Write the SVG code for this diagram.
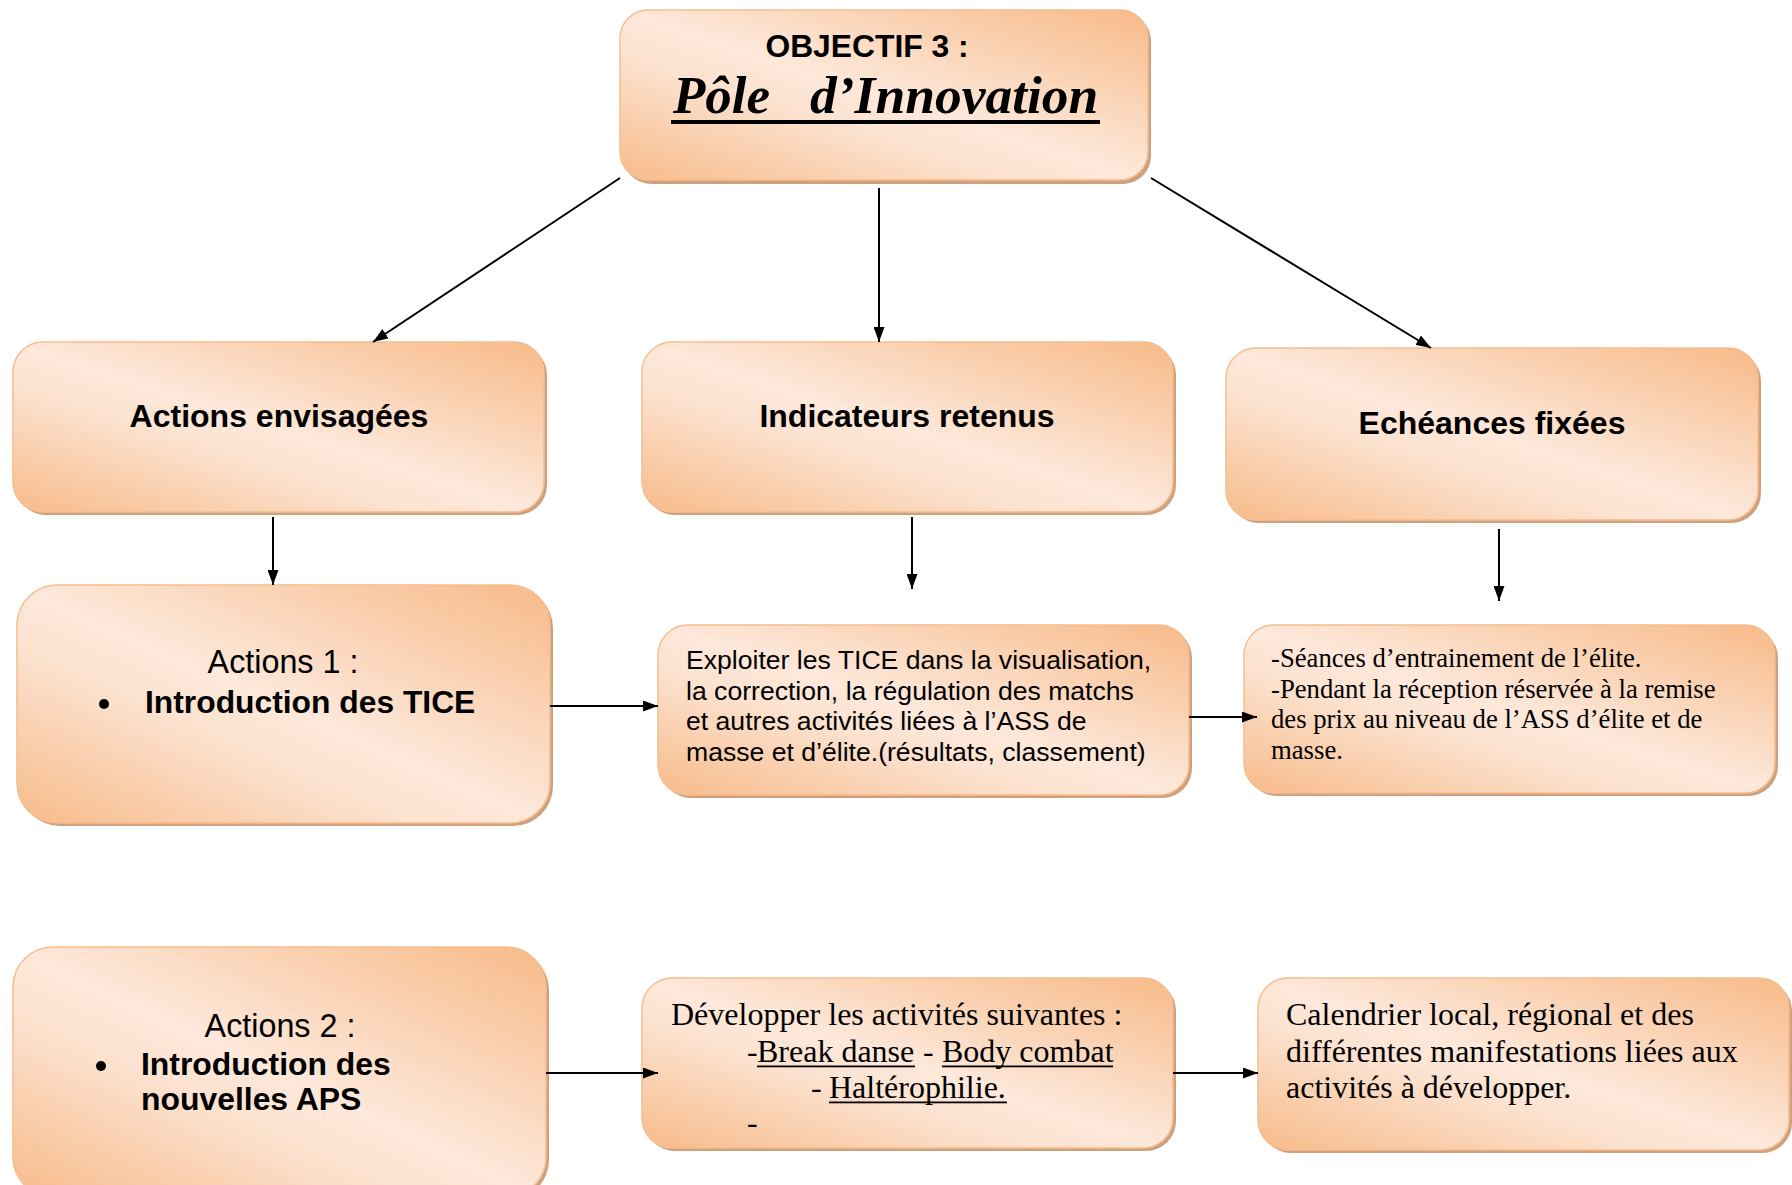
<svg xmlns="http://www.w3.org/2000/svg" width="1792" height="1185" viewBox="0 0 1792 1185">
<defs>
<linearGradient id="g" x1="1" y1="0" x2="0" y2="1">
<stop offset="0" stop-color="#f7ba88"/>
<stop offset="0.5" stop-color="#fde8da"/>
<stop offset="0.62" stop-color="#fce3d1"/>
<stop offset="1" stop-color="#f7bb8a"/>
</linearGradient>
<marker id="ah" markerUnits="userSpaceOnUse" markerWidth="15" markerHeight="11" refX="15" refY="5.5" orient="auto">
<path d="M0,0 L15,5.5 L0,11 z" fill="#000"/>
</marker>
<style>
.sh{fill:#cfa07e}
.bx{fill:url(#g);stroke:#f6bd8f;stroke-width:1.5}
.ab{font-family:"Liberation Sans",Arial,sans-serif;font-weight:bold;fill:#000}
.ar{font-family:"Liberation Sans",Arial,sans-serif;fill:#000}
.tr{font-family:"Liberation Serif","Times New Roman",serif;fill:#000}
.cn{stroke:#000;stroke-width:2;fill:none;marker-end:url(#ah)}
.ul{fill:#000}
</style>
</defs>
<rect width="1792" height="1185" fill="#fff"/>

<g id="objectif">
<rect class="sh" x="623" y="13" width="528" height="171" rx="28"/>
<rect class="bx" x="620" y="10" width="528" height="170" rx="28"/>
<text class="ab" x="867" y="57" font-size="31.8" text-anchor="middle">OBJECTIF 3 :</text>
<text class="tr" x="673" y="113" font-size="53" font-weight="bold" font-style="italic">Pôle</text>
<text class="tr" x="810" y="113" font-size="53.5" font-weight="bold" font-style="italic">d’Innovation</text>
<rect class="ul" x="671" y="120" width="429" height="4"/>
</g>

<g id="actions-envisagees">
<rect class="sh" x="16" y="345" width="531" height="170" rx="30"/>
<rect class="bx" x="13" y="342" width="531" height="170" rx="30"/>
<text class="ab" x="279" y="427" font-size="32" text-anchor="middle">Actions envisagées</text>
</g>

<g id="indicateurs-retenus">
<rect class="sh" x="645" y="345" width="531" height="170" rx="30"/>
<rect class="bx" x="642" y="342" width="531" height="170" rx="30"/>
<text class="ab" x="907" y="427" font-size="32" text-anchor="middle">Indicateurs retenus</text>
</g>

<g id="echeances-fixees">
<rect class="sh" x="1229" y="351" width="532" height="172" rx="30"/>
<rect class="bx" x="1226" y="348" width="532" height="172" rx="30"/>
<text class="ab" x="1492" y="434" font-size="32" text-anchor="middle">Echéances fixées</text>
</g>

<g id="actions-1">
<rect class="sh" x="20" y="588" width="533" height="238" rx="40"/>
<rect class="bx" x="17" y="585" width="533" height="238" rx="40"/>
<text class="ar" x="283" y="673" font-size="32.3" text-anchor="middle">Actions 1 :</text>
<circle cx="104" cy="704" r="5"/>
<text class="ab" x="145" y="713" font-size="31.8">Introduction des TICE</text>
</g>

<g id="exploiter-tice">
<rect class="sh" x="661" y="628" width="531" height="170" rx="30"/>
<rect class="bx" x="658" y="625" width="531" height="170" rx="30"/>
<text class="ar" font-size="26.6">
<tspan x="686" y="669">Exploiter les TICE dans la visualisation,</tspan>
<tspan x="686" y="699.5">la correction, la régulation des matchs</tspan>
<tspan x="686" y="730">et autres activités liées à l’ASS de</tspan>
<tspan x="686" y="760.5">masse et d’élite.(résultats, classement)</tspan>
</text>
</g>

<g id="seances">
<rect class="sh" x="1247" y="628" width="531" height="168" rx="30"/>
<rect class="bx" x="1244" y="625" width="531" height="168" rx="30"/>
<text class="tr" font-size="26.7">
<tspan x="1271" y="667">-Séances d’entrainement de l’élite.</tspan>
<tspan x="1271" y="697.5">-Pendant la réception réservée à la remise</tspan>
<tspan x="1271" y="728">des prix au niveau de l’ASS d’élite et de</tspan>
<tspan x="1271" y="758.5">masse.</tspan>
</text>
</g>

<g id="actions-2">
<rect class="sh" x="16" y="950" width="533" height="250" rx="40"/>
<rect class="bx" x="13" y="947" width="533" height="250" rx="40"/>
<text class="ar" x="280" y="1037" font-size="32.3" text-anchor="middle">Actions 2 :</text>
<circle cx="101" cy="1066" r="5"/>
<text class="ab" font-size="31.9">
<tspan x="141" y="1075">Introduction des</tspan>
<tspan x="141" y="1110">nouvelles APS</tspan>
</text>
</g>

<g id="developper">
<rect class="sh" x="645" y="981" width="531" height="170" rx="30"/>
<rect class="bx" x="642" y="978" width="531" height="170" rx="30"/>
<text class="tr" font-size="32">
<tspan x="671" y="1025">Développer les activités suivantes :</tspan>
<tspan x="747" y="1062">-</tspan><tspan x="757" y="1062">Break danse</tspan><tspan x="923" y="1062">-</tspan><tspan x="942" y="1062">Body combat</tspan>
<tspan x="811" y="1098">-</tspan><tspan x="829" y="1098">Haltérophilie.</tspan>
<tspan x="747" y="1133">-</tspan>
</text>
<rect class="ul" x="757" y="1065.5" width="158" height="1.8"/>
<rect class="ul" x="942" y="1065.5" width="171" height="1.8"/>
<rect class="ul" x="829" y="1101.5" width="178" height="1.8"/>
</g>

<g id="calendrier">
<rect class="sh" x="1261" y="981" width="531" height="172" rx="30"/>
<rect class="bx" x="1258" y="978" width="531" height="172" rx="30"/>
<text class="tr" font-size="32">
<tspan x="1286" y="1025">Calendrier local, régional et des</tspan>
<tspan x="1286" y="1062">différentes manifestations liées aux</tspan>
<tspan x="1286" y="1098">activités à développer.</tspan>
</text>
</g>

<g id="connectors">
<line class="cn" x1="620" y1="178" x2="373" y2="342"/>
<line class="cn" x1="879" y1="188" x2="879" y2="342"/>
<line class="cn" x1="1151" y1="178" x2="1431" y2="348"/>
<line class="cn" x1="273" y1="517" x2="273" y2="585"/>
<line class="cn" x1="912" y1="517" x2="912" y2="589"/>
<line class="cn" x1="1499" y1="529" x2="1499" y2="601"/>
<line class="cn" x1="550" y1="706" x2="658" y2="706"/>
<line class="cn" x1="1189" y1="717" x2="1257" y2="717"/>
<line class="cn" x1="546" y1="1073" x2="658" y2="1073"/>
<line class="cn" x1="1173" y1="1073" x2="1258" y2="1073"/>
</g>
</svg>
